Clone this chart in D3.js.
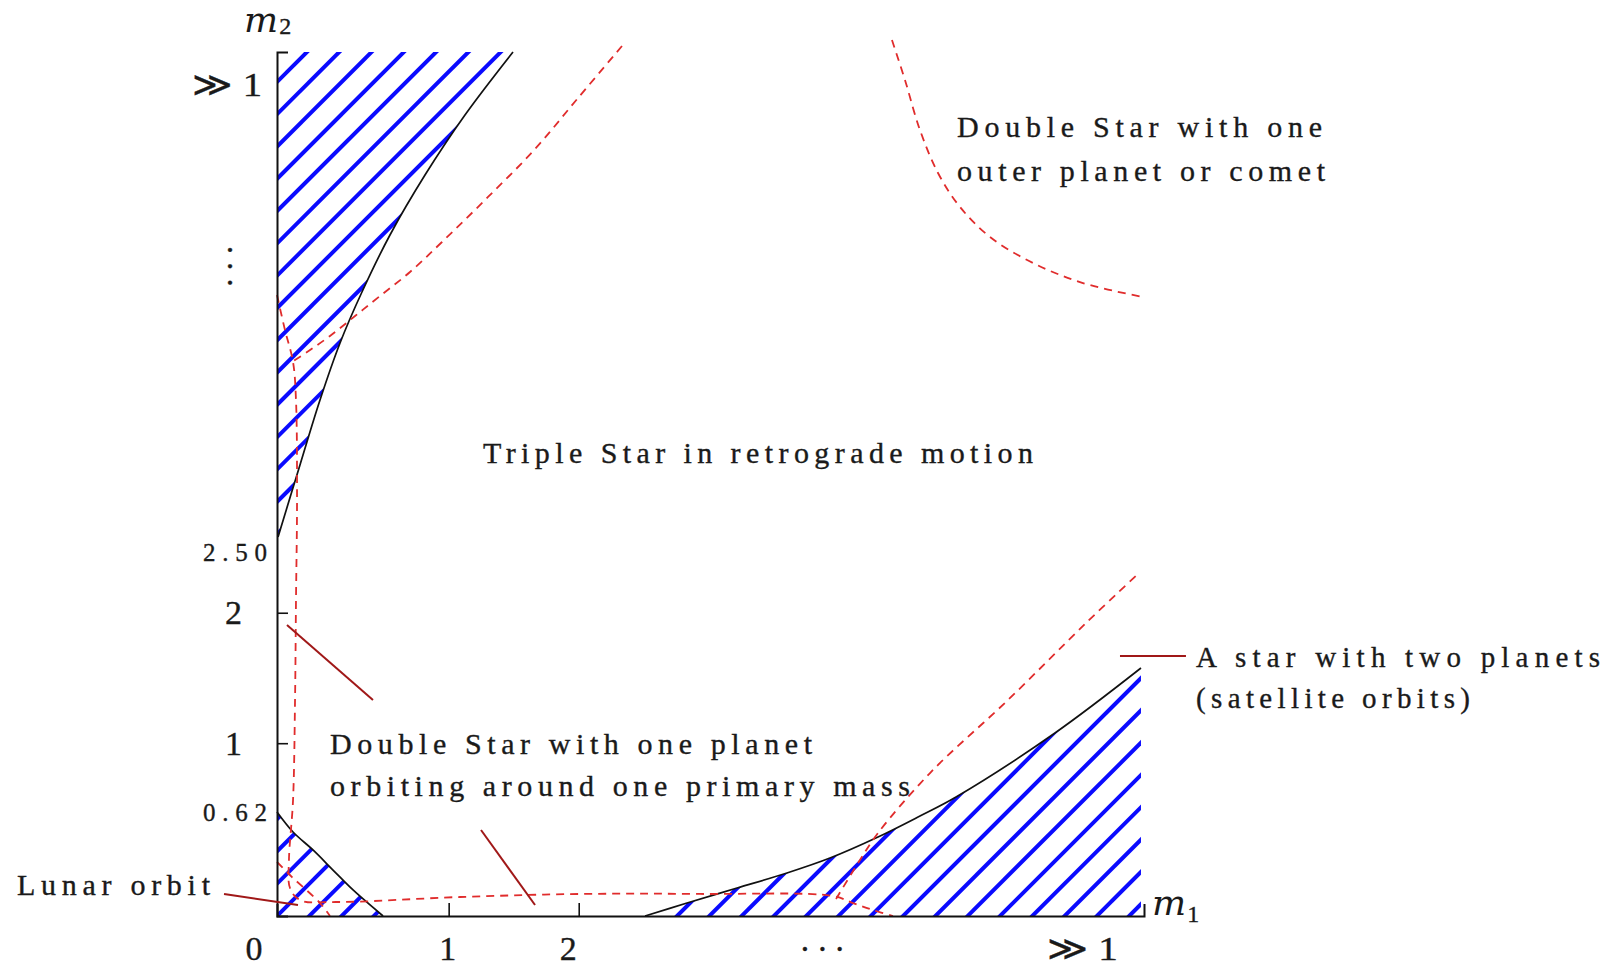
<!DOCTYPE html>
<html>
<head>
<meta charset="utf-8">
<title>Three-body orbit regimes in the (m1, m2) plane</title>
<script src="https://cdn.jsdelivr.net/npm/d3@7/dist/d3.min.js"></script>
<style>
  html, body { margin: 0; padding: 0; background: #fff; }
  svg { display: block; }
  .lbl { font-family: "Liberation Serif", "DejaVu Serif", serif; fill: #1a1a1a; stroke: #1a1a1a; stroke-width: 0.35px; }
  .sym { font-family: "DejaVu Serif", "Liberation Serif", serif; font-style: italic; fill: #1a1a1a; }
</style>
</head>
<body>
<script>
// ---- Schematic coordinates: both axes run 0..100 (not to scale) ----

// Axis ticks and labels
const xTickPos    = [19.8, 34.8];
const xTickLabels = ["0", "1", "2", "· · ·", "≫ 1"];
const xLabelPos   = [-2.65, 19.7, 33.6, 62.9, 92.9];

const yTickPos    = [20.0, 35.1];
const yTickLabels = ["0.62", "1", "2", "2.50", "≫ 1"];
const yLabelPos   = [12.0, 20.0, 35.1, 42.1, 96.2];
const yGapPos     = 75.2;   // vertical ellipsis between 2.50 and >>1

// Boundaries of the shaded (unstable) regions
const boundaryUpper = [[0.12,43.87],[2.65,52.20],[4.96,59.72],[7.27,66.32],[9.80,72.22],
                       [13.03,78.82],[17.07,85.76],[21.68,92.71],[27.22,100]];
const boundaryLower = [[0,12.04],[1.85,9.72],[4.15,7.64],[6.46,5.32],[8.77,3.01],[12.23,0]];
const boundaryRight = [[42.45,0],[47.29,1.50],[53.06,3.24],[58.82,4.98],[63.78,6.71],
                       [69.32,9.14],[74.16,11.57],[78.32,13.77],[89.73,21.18],[99.65,28.70]];

// Dashed separatrices between orbit types
const sepCorner  = [[0,71.88],[0.92,67.82],[1.85,64.12],[2.19,59.72],[2.31,48.15],[2.19,36.57],
                    [2.08,25.0],[1.85,13.43],[1.38,6.48],[1.50,3.24],[2.65,1.85],[6.92,1.62],
                    [21.1,2.2],[34.95,2.55],[48.79,2.55],[64.13,2.31],[66.44,1.50],[68.74,0.69],[71.05,0]];
const sepTop     = [[39.79,100.69],[34.72,94.68],[29.76,88.77],[24.34,83.22],[19.03,78.01],
                    [15.34,74.54],[11.88,71.76],[9.0,69.44],[6.11,67.13],[3.81,65.51],[1.73,64.12]];
const sepOuter   = [[70.93,101.39],[72.43,96.76],[74.16,90.97],[76.24,86.0],[78.78,82.06],
                    [82.24,78.59],[87.20,75.58],[92.96,73.26],[99.88,71.64]];
const sepRising  = [[64.48,1.97],[67.24,6.48],[69.32,9.61],[75.32,16.55],[84.31,25.0],
                    [93.31,33.91],[99.42,39.70]];
const sepLunar   = [[0,6.25],[1.73,4.51],[4.96,1.50],[6.11,0]];

// Region captions
const regionText = [
  ["Double Star with one", "outer planet or comet"],
  ["Triple Star in retrograde motion"],
  ["Double Star with one planet", "orbiting around one primary mass"],
  ["A star with two planets", "(satellite orbits)"],
  ["Lunar orbit"]
];

// Pointer segments from captions into the plane
const pointers = [
  [[1.15,33.68],[11.07,25.0]],
  [[-6.11,2.55],[2.42,1.27]],
  [[23.53,9.95],[29.76,1.27]],
  [[97.23,30.09],[104.84,30.09]]
];

// ---- Layout ----
const W = 1612, H = 968;
const x = d3.scaleLinear().domain([0, 100]).range([277, 1144]);
const y = d3.scaleLinear().domain([0, 100]).range([916, 52]);

const svg = d3.select("body").append("svg").attr("width", W).attr("height", H);
svg.append("rect").attr("width", W).attr("height", H).attr("fill", "#fff");
const defs = svg.append("defs");

const smooth = d3.line().x(d => x(d[0])).y(d => y(d[1])).curve(d3.curveCatmullRom.alpha(0.5));

// ---- Hatched regions ----
const hatchStep = x(3.725) - x(0);   // spacing of the 45° strokes
const hatchSets = [
  { edge: boundaryUpper, close: [[0,100],[0,43.87]], ref: [0, 96.53], id: "clipUpper" },
  { edge: boundaryLower, close: [[0,0]],             ref: [0, 0],     id: "clipLower" },
  { edge: boundaryRight, close: [[99.65,0]],         ref: [46.14, 0], id: "clipRight" }
];

const hatchLayer = svg.append("g");
hatchSets.forEach(h => {
  const pts = h.edge.concat(h.close);
  const d = smooth(h.edge) + h.close.map(p => `L${x(p[0])},${y(p[1])}`).join("") + "Z";
  defs.append("clipPath").attr("id", h.id).append("path").attr("d", d);

  const px = pts.map(p => x(p[0])), py = pts.map(p => y(p[1]));
  const x0 = d3.min(px) - 10, x1 = d3.max(px) + 10;
  const y0 = d3.min(py) - 10, y1 = d3.max(py) + 10;
  const c0 = x(h.ref[0]) + y(h.ref[1]);
  const kMin = Math.floor((x0 + y0 - c0) / hatchStep) - 1;
  const kMax = Math.ceil((x1 + y1 - c0) / hatchStep) + 1;
  const lines = d3.range(kMin, kMax + 1).map(k => c0 + k * hatchStep);

  hatchLayer.append("g").attr("clip-path", `url(#${h.id})`)
    .selectAll("line").data(lines).join("line")
      .attr("x1", c => c - y1).attr("y1", y1)
      .attr("x2", c => c - y0).attr("y2", y0)
      .attr("stroke", "#0a0aff")
      .attr("stroke-width", 4);
});

// ---- Boundary curves ----
svg.append("g").selectAll("path")
  .data([boundaryUpper, boundaryLower, boundaryRight]).join("path")
    .attr("d", smooth)
    .attr("fill", "none")
    .attr("stroke", "#111")
    .attr("stroke-width", 1.7);

// ---- Dashed separatrices ----
svg.append("g").selectAll("path")
  .data([sepCorner, sepTop, sepOuter, sepRising, sepLunar]).join("path")
    .attr("d", smooth)
    .attr("fill", "none")
    .attr("stroke", "#e02c2c")
    .attr("stroke-width", 1.8)
    .attr("stroke-dasharray", "8,6");

// ---- Axes ----
const xAxis = d3.axisBottom(x).tickValues(xTickPos).tickSize(-13).tickSizeOuter(-12).tickFormat(() => "");
const yAxis = d3.axisLeft(y).tickValues(yTickPos).tickSize(-11).tickSizeOuter(-11).tickFormat(() => "");

const gx = svg.append("g").attr("transform", `translate(0,${y(0)})`).call(xAxis);
const gy = svg.append("g").attr("transform", `translate(${x(0)},0)`).call(yAxis);
[gx, gy].forEach(g => {
  g.select(".domain").attr("stroke", "#111").attr("stroke-width", 2);
  g.selectAll(".tick line").attr("stroke", "#111").attr("stroke-width", 1.6);
});

// x tick labels
svg.append("g").selectAll("text")
  .data(xTickLabels).join("text")
    .attr("class", "lbl")
    .attr("x", (d, i) => x(xLabelPos[i]))
    .attr("y", (d) => d.startsWith("·") ? y(0) + 36 : y(0) + 44)
    .attr("text-anchor", "middle")
    .attr("font-size", 34)
    .attr("dominant-baseline", d => d.startsWith("·") ? "middle" : "alphabetic")
    .each(function (d) {
      if (d.startsWith("≫")) d3.select(this).attr("textLength", 71).attr("lengthAdjust", "spacingAndGlyphs");
      if (d.startsWith("·")) d3.select(this).attr("textLength", 46).attr("lengthAdjust", "spacing");
    })
    .text(d => d);

// y tick labels
svg.append("g").selectAll("text")
  .data(yTickLabels).join("text")
    .attr("class", "lbl")
    .attr("text-anchor", "end")
    .attr("y", (d, i) => y(yLabelPos[i]))
    .attr("dy", "0.34em")
    .each(function (d) {
      const t = d3.select(this);
      if (/\d\.\d/.test(d)) {
        t.attr("x", x(0) - 10).attr("font-size", 25).attr("textLength", 64).attr("lengthAdjust", "spacing");
      } else if (d.startsWith("≫")) {
        t.attr("x", x(0) - 15).attr("font-size", 34).attr("textLength", 70).attr("lengthAdjust", "spacingAndGlyphs");
      } else {
        t.attr("x", x(0) - 35).attr("font-size", 34);
      }
    })
    .text(d => d);

// vertical ellipsis on the m2 axis
svg.append("text")
  .attr("class", "lbl")
  .attr("transform", `translate(${x(0) - 50},${y(yGapPos)}) rotate(90)`)
  .attr("text-anchor", "middle")
  .attr("dominant-baseline", "middle")
  .attr("font-size", 34)
  .attr("textLength", 44).attr("lengthAdjust", "spacing")
  .text("· · ·");

// axis names m1, m2
function massLabel(px, py, sub, subDy) {
  const t = svg.append("text").attr("class", "sym").attr("x", px).attr("y", py).attr("font-size", 36);
  t.append("tspan").text("m");
  t.append("tspan").attr("class", "lbl").attr("font-style", "normal")
    .attr("font-size", 24).attr("dx", 1).attr("dy", subDy).text(sub);
}
massLabel(x(100) + 8, y(0) - 1, "1", 7);
massLabel(x(0) - 33, y(100) - 20, "2", 2);

// ---- Pointers ----
svg.append("g").selectAll("path")
  .data(pointers).join("path")
    .attr("d", d3.line().x(d => x(d[0])).y(d => y(d[1])))
    .attr("fill", "none")
    .attr("stroke", "#a01818")
    .attr("stroke-width", 2);

// ---- Region captions ----
const captionLayout = [
  { at: [78.43, 90.13], lead: 5.09, size: 30, widths: [365, 368] },
  { at: [23.76, 52.43], lead: 0,    size: 30, widths: [550] },
  { at: [6.11, 18.75],  lead: 4.86, size: 30, widths: [482, 580] },
  { at: [106.0, 28.82], lead: 4.75, size: 29, widths: [404, 274] },
  { at: [-29.99, 2.43], lead: 0,    size: 30, widths: [193] }
];

regionText.forEach((lines, i) => {
  const L = captionLayout[i];
  lines.forEach((line, j) => {
    svg.append("text")
      .attr("class", "lbl")
      .attr("x", x(L.at[0]))
      .attr("y", y(L.at[1] - j * L.lead))
      .attr("font-size", L.size)
      .attr("textLength", L.widths[j])
      .attr("lengthAdjust", "spacing")
      .text(line);
  });
});
</script>
</body>
</html>
